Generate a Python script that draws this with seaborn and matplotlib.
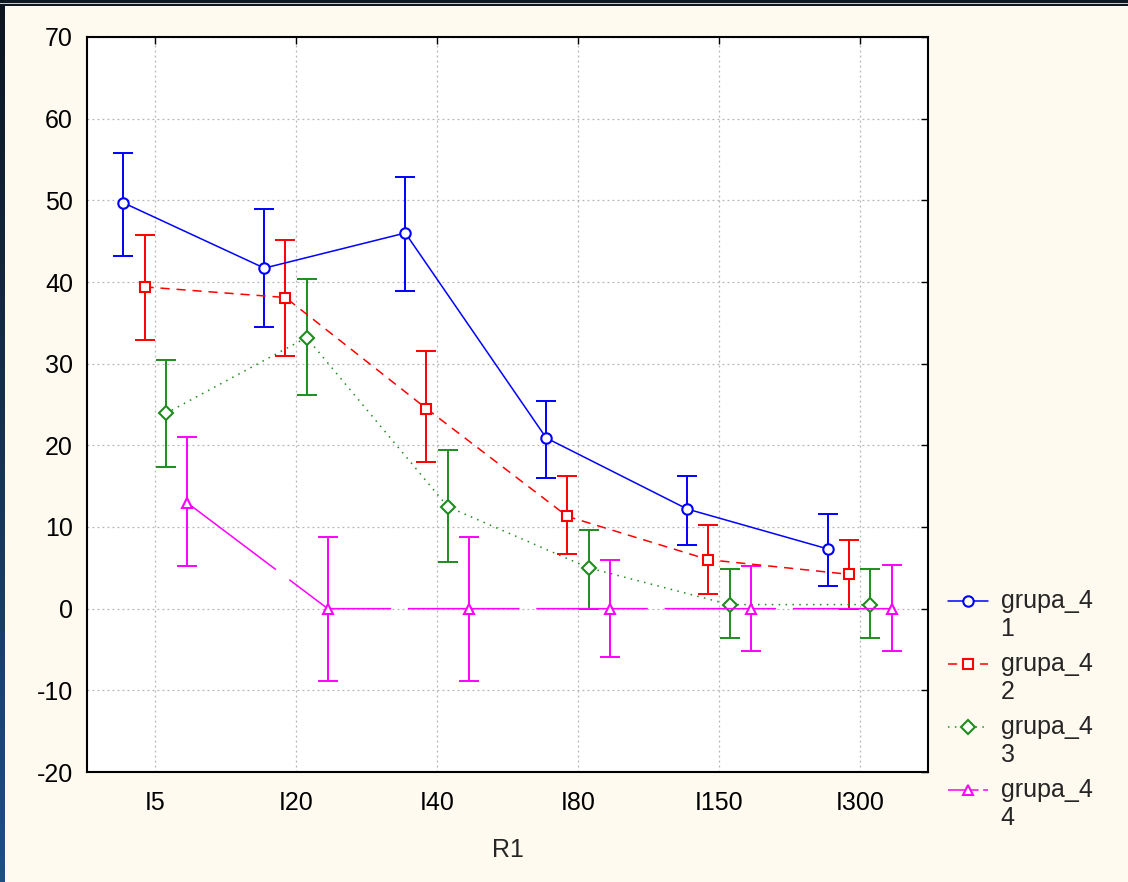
import numpy as np
import pandas as pd
import matplotlib
matplotlib.use("Agg")
import matplotlib.pyplot as plt
import seaborn as sns
from matplotlib.legend_handler import HandlerLine2D
from matplotlib.patches import Rectangle

# categories on the x axis
categories = ["I5", "I20", "I40", "I80", "I150", "I300"]
groups = ["1", "2", "3", "4"]

# means and error-bar limits
mean_g1 = [49.7, 41.7, 46.0, 20.9, 12.2, 7.3]
low_g1 = [43.2, 34.5, 38.9, 16.0, 7.8, 2.8]
high_g1 = [55.8, 49.0, 52.9, 25.4, 16.2, 11.6]

mean_g2 = [39.4, 38.1, 24.5, 11.3, 6.0, 4.2]
low_g2 = [32.9, 30.9, 18.0, 6.7, 1.8, 0.0]
high_g2 = [45.8, 45.2, 31.5, 16.2, 10.2, 8.4]

mean_g3 = [23.9, 33.2, 12.5, 5.0, 0.5, 0.5]
low_g3 = [17.3, 26.2, 5.7, 0.0, -3.6, -3.6]
high_g3 = [30.4, 40.4, 19.4, 9.6, 4.8, 4.8]

mean_g4 = [13.0, 0.0, 0.0, 0.0, 0.0, 0.0]
low_g4 = [5.2, -8.8, -8.8, -5.9, -5.2, -5.2]
high_g4 = [21.0, 8.8, 8.8, 6.0, 5.2, 5.4]

means = [mean_g1, mean_g2, mean_g3, mean_g4]
lows = [low_g1, low_g2, low_g3, low_g4]
highs = [high_g1, high_g2, high_g3, high_g4]

colors = {"1": "#0000ff", "2": "#ff0000", "3": "#1e8c1e", "4": "#ff00ff"}
markers = {"1": "o", "2": "s", "3": "D", "4": "^"}
dashes = {"1": "", "2": (6, 4.5), "3": (1, 3.5), "4": (73, 11)}
dodge = [-0.225, -0.075, 0.075, 0.225]

rows = []
for g, m, lo, hi, d in zip(groups, means, lows, highs, dodge):
    for i, c in enumerate(categories):
        rows.append({"group": g, "R1": c, "x": i + d, "mean": m[i], "lo": lo[i], "hi": hi[i]})
df = pd.DataFrame(rows)

sns.set_style("white")
plt.rcParams["font.family"] = ["Liberation Sans", "DejaVu Sans"]
plt.rcParams["axes.unicode_minus"] = False

fig = plt.figure(figsize=(11.28, 8.82), dpi=100, facecolor="#fffaef")
ax = fig.add_axes([87 / 1128, 1 - 772 / 882, (928 - 87) / 1128, (772 - 37) / 882])
ax.set_facecolor("white")

# error bars first so the markers sit on top
for g in groups:
    sub = df[df["group"] == g]
    ax.errorbar(sub["x"], sub["mean"], yerr=[sub["mean"] - sub["lo"], sub["hi"] - sub["mean"]],
                fmt="none", ecolor=colors[g], elinewidth=1.4, capsize=7, capthick=1.4, zorder=2)

n_before = len(ax.lines)
sns.lineplot(data=df, x="x", y="mean", hue="group", style="group", palette=colors,
             markers=markers, dashes=dashes, linewidth=1.1, markersize=7.5,
             sort=False, legend=False, ax=ax, zorder=3)

for line in ax.lines[n_before:]:
    line.set_markerfacecolor("white")
    line.set_markeredgecolor(line.get_color())
    line.set_markeredgewidth(1.5)

ax.set_xlim(-0.483, 5.483)
ax.set_ylim(-20, 70)
ax.set_xticks(range(len(categories)))
ax.set_xticklabels(categories)
ax.set_yticks(range(-20, 71, 10))
ax.set_xlabel("R1", fontsize=18, labelpad=16)
ax.set_ylabel("")
ax.tick_params(direction="in", length=5, width=1, top=True, right=True,
               labelsize=18, colors="black")
ax.tick_params(axis="y", pad=10)
ax.tick_params(axis="x", pad=14)
ax.grid(True, color="#b5b5b5", linestyle=(0, (1.5, 2.5)), linewidth=0.9)
for s in ax.spines.values():
    s.set_visible(True)
    s.set_color("black")
    s.set_linewidth(1.5)


class TopHandler(HandlerLine2D):
    # put the handle level with the first line of a two-line label
    def create_artists(self, legend, orig_handle, xdescent, ydescent, width, height, fontsize, trans):
        arts = super().create_artists(legend, orig_handle, xdescent, ydescent, width, height, fontsize, trans)
        for a in arts:
            a.set_ydata(np.asarray(a.get_ydata()) + 0.6 * fontsize)
        return arts


handles = []
for g in groups:
    h, = ax.plot([], [], color=colors[g], marker=markers[g], markersize=7.5,
                 markerfacecolor="white", markeredgewidth=1.5, linewidth=1.1)
    if dashes[g]:
        h.set_dashes(dashes[g] if g != "4" else (20, 3))
    handles.append(h)
labels = ["grupa_4\n" + g for g in groups]
fig.legend(handles, labels, loc="upper left", bbox_to_anchor=(948 / 1128, 1 - 589 / 882),
           frameon=False, fontsize=18, handlelength=1.6, handletextpad=0.5,
           labelspacing=0.45, borderpad=0, borderaxespad=0,
           handler_map={h: TopHandler(numpoints=1) for h in handles})

# dark window frame along top and left edges
fig.patches.append(Rectangle((0, 1 - 6 / 882), 1, 6 / 882, transform=fig.transFigure,
                             facecolor="#0e1822", edgecolor="none", zorder=10))
fig.patches.append(Rectangle((0, 1 - 4 / 882), 1, 1 / 882, transform=fig.transFigure,
                             facecolor="#c8c8c8", edgecolor="none", zorder=11))
grad_ax = fig.add_axes([0, 0, 5 / 1128, 1])
grad_ax.imshow(np.linspace(0, 1, 100).reshape(-1, 1), aspect="auto",
               cmap=matplotlib.colors.LinearSegmentedColormap.from_list("f", ["#0d1520", "#1f4f80"]))
grad_ax.set_axis_off()

fig.savefig("out.png", dpi=100, facecolor=fig.get_facecolor())
